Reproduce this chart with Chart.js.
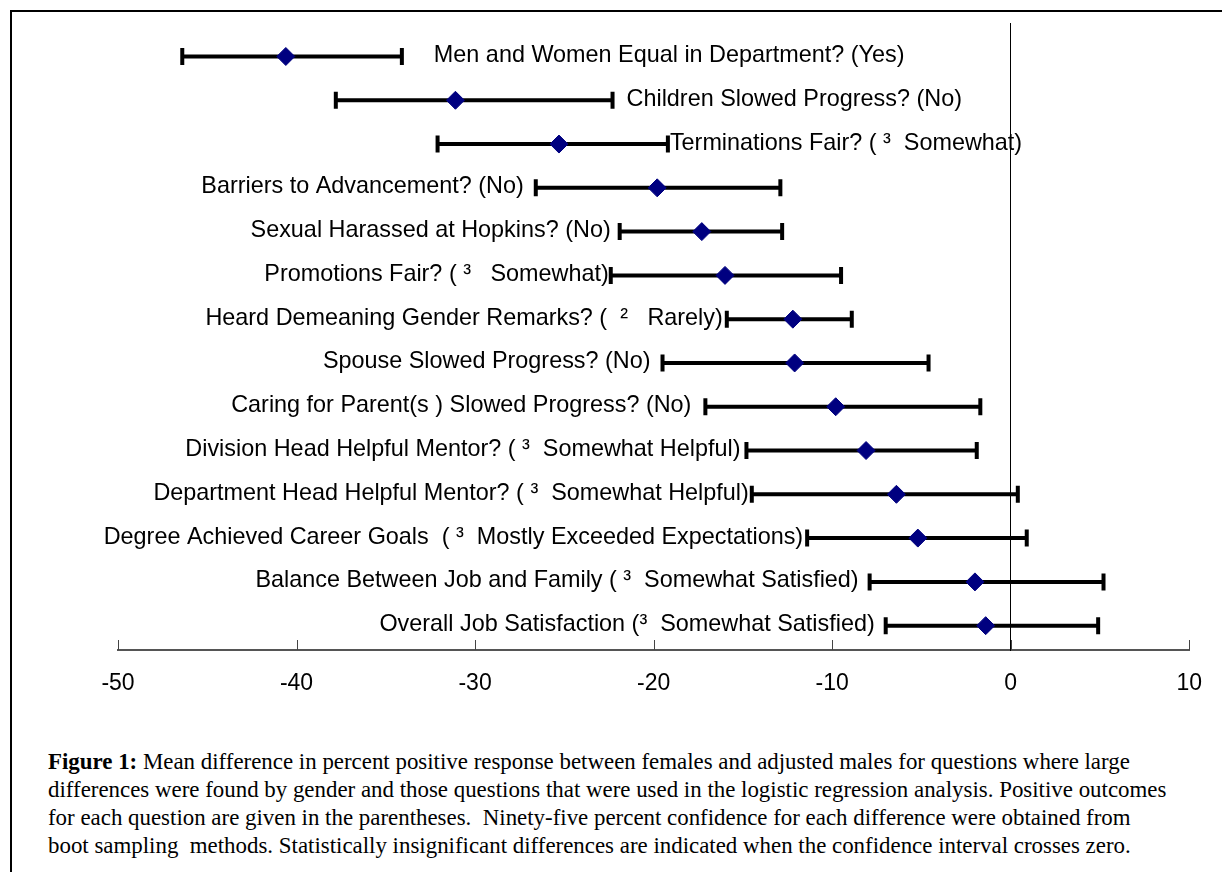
<!DOCTYPE html>
<html>
<head>
<meta charset="utf-8">
<title>Figure 1</title>
<script src="https://cdn.jsdelivr.net/npm/chart.js@4.4.0/dist/chart.umd.min.js"></script>
<style>
  html, body { margin: 0; padding: 0; background: #fff; width: 1222px; height: 872px; overflow: hidden; }
  #frame { position: absolute; left: 10px; top: 10px; width: 1300px; height: 1000px;
           border-left: 2px solid #000; border-top: 2px solid #000; }
  #wrap { position: absolute; left: 0; top: 0; width: 1222px; height: 720px; }
  #caption { position: absolute; left: 48px; top: 748px; color: #000;
             font-family: "Liberation Serif", "Times New Roman", serif; font-size: 22.9px;
             line-height: 28px; white-space: pre; }
</style>
</head>
<body>
<div id="frame"></div>
<div id="wrap"><canvas id="chart" width="1222" height="720"></canvas></div>
<div id="caption"><b>Figure 1:</b> Mean difference in percent positive response between females and adjusted males for questions where large
differences were found by gender and those questions that were used in the logistic regression analysis. Positive outcomes
for each question are given in the parentheses.  Ninety-five percent confidence for each difference were obtained from
boot sampling  methods. Statistically insignificant differences are indicated when the confidence interval crosses zero.</div>

<script>
// Survey questions, top to bottom
const questions = [
  "Men and Women Equal in Department? (Yes)",
  "Children Slowed Progress? (No)",
  "Terminations Fair? ( \u00B3  Somewhat)",
  "Barriers to Advancement? (No)",
  "Sexual Harassed at Hopkins? (No)",
  "Promotions Fair? ( \u00B3   Somewhat)",
  "Heard Demeaning Gender Remarks? (  \u00B2   Rarely)",
  "Spouse Slowed Progress? (No)",
  "Caring for Parent(s ) Slowed Progress? (No)",
  "Division Head Helpful Mentor? ( \u00B3  Somewhat Helpful)",
  "Department Head Helpful Mentor? ( \u00B3  Somewhat Helpful)",
  "Degree Achieved Career Goals  ( \u00B3  Mostly Exceeded Expectations)",
  "Balance Between Job and Family ( \u00B3  Somewhat Satisfied)",
  "Overall Job Satisfaction (\u00B3  Somewhat Satisfied)"
];

// Mean difference (female - adjusted male), percent positive
const meanDiff = [-40.6, -31.1, -25.3, -19.8, -17.3, -16.0, -12.2, -12.1, -9.8, -8.1, -6.4, -5.2, -2.0, -1.4];
// 95% bootstrap confidence limits
const ciLower  = [-46.4, -37.8, -32.1, -26.6, -21.9, -22.4, -15.9, -19.5, -17.1, -14.8, -14.5, -11.4, -7.9, -7.0];
const ciUpper  = [-34.1, -22.3, -19.2, -12.9, -12.8, -9.5, -8.9, -4.6, -1.7, -1.9, 0.4, 0.9, 5.2, 4.9];

// Which end of the interval each question label sits beside
const labelSide = ["right", "right", "right", "left", "left", "left", "left",
                   "left", "left", "left", "left", "left", "left", "left"];

// X axis tick values
const xTickValues = [-50, -40, -30, -20, -10, 0, 10];

// Pixel gap between each label and its interval cap
const labelGap = [32, 14, 2, 12, 9, 2, 4, 12, 14, 6, 3, 4, 11, 11];

const LABEL_FONT = '23.4px "Liberation Sans", Arial, sans-serif';

const errorBarPlugin = {
  id: 'errorBars',
  beforeDatasetsDraw(chart) {
    const { ctx, scales: { x, y } } = chart;
    ctx.save();
    ctx.strokeStyle = '#000';
    ctx.lineWidth = 4;
    ctx.lineCap = 'butt';
    for (let i = 0; i < meanDiff.length; i++) {
      const py = y.getPixelForValue(i);
      const x1 = x.getPixelForValue(ciLower[i]);
      const x2 = x.getPixelForValue(ciUpper[i]);
      ctx.beginPath();
      ctx.moveTo(x1, py);
      ctx.lineTo(x2, py);
      ctx.moveTo(x1, py - 8.5);
      ctx.lineTo(x1, py + 8.5);
      ctx.moveTo(x2, py - 8.5);
      ctx.lineTo(x2, py + 8.5);
      ctx.stroke();
    }
    ctx.restore();
  },
  afterDraw(chart) {
    const { ctx, scales: { x, y } } = chart;
    ctx.save();
    // inward tick marks on the value axis
    ctx.strokeStyle = '#444';
    ctx.lineWidth = 1;
    const base = x.top;
    x.ticks.forEach(t => {
      const px = Math.round(x.getPixelForValue(t.value)) + 0.5;
      ctx.beginPath();
      ctx.moveTo(px, base);
      ctx.lineTo(px, base - 10);
      ctx.stroke();
    });
    // question labels beside each interval
    ctx.font = LABEL_FONT;
    ctx.fillStyle = '#000';
    ctx.textBaseline = 'middle';
    for (let i = 0; i < questions.length; i++) {
      const py = y.getPixelForValue(i) - 1;
      if (labelSide[i] === 'right') {
        ctx.textAlign = 'left';
        ctx.fillText(questions[i], x.getPixelForValue(ciUpper[i]) + labelGap[i], py);
      } else {
        ctx.textAlign = 'right';
        ctx.fillText(questions[i], x.getPixelForValue(ciLower[i]) - labelGap[i], py);
      }
    }
    ctx.restore();
  }
};

new Chart(document.getElementById('chart'), {
  type: 'scatter',
  data: {
    datasets: [{
      label: 'Mean difference',
      data: meanDiff.map((v, i) => ({ x: v, y: i })),
      pointStyle: 'rectRot',
      pointRadius: 9,
      pointHoverRadius: 9,
      backgroundColor: '#000080',
      borderColor: '#000080',
      borderWidth: 1
    }]
  },
  options: {
    responsive: false,
    animation: false,
    devicePixelRatio: 1,
    layout: { padding: { left: 118, right: 30, top: 23, bottom: 30 } },
    plugins: { legend: { display: false }, tooltip: { enabled: false } },
    scales: {
      x: {
        type: 'linear',
        position: 'bottom',
        min: -50,
        max: 10,
        afterBuildTicks: scale => { scale.ticks = xTickValues.map(v => ({ value: v })); },
        afterFit: scale => { scale.height = 40; },
        ticks: {
          color: '#000',
          padding: 20,
          font: { family: '"Liberation Sans", Arial, sans-serif', size: 23 }
        },
        grid: { display: true, drawOnChartArea: false, drawTicks: false },
        border: { display: true, color: '#555', width: 2 }
      },
      y: {
        type: 'linear',
        position: { x: 0 },
        reverse: true,
        min: -0.765,
        max: 13.556,
        ticks: { display: false },
        grid: { display: false },
        border: { display: true, color: '#000', width: 1 }
      }
    }
  },
  plugins: [errorBarPlugin]
});
</script>
</body>
</html>
